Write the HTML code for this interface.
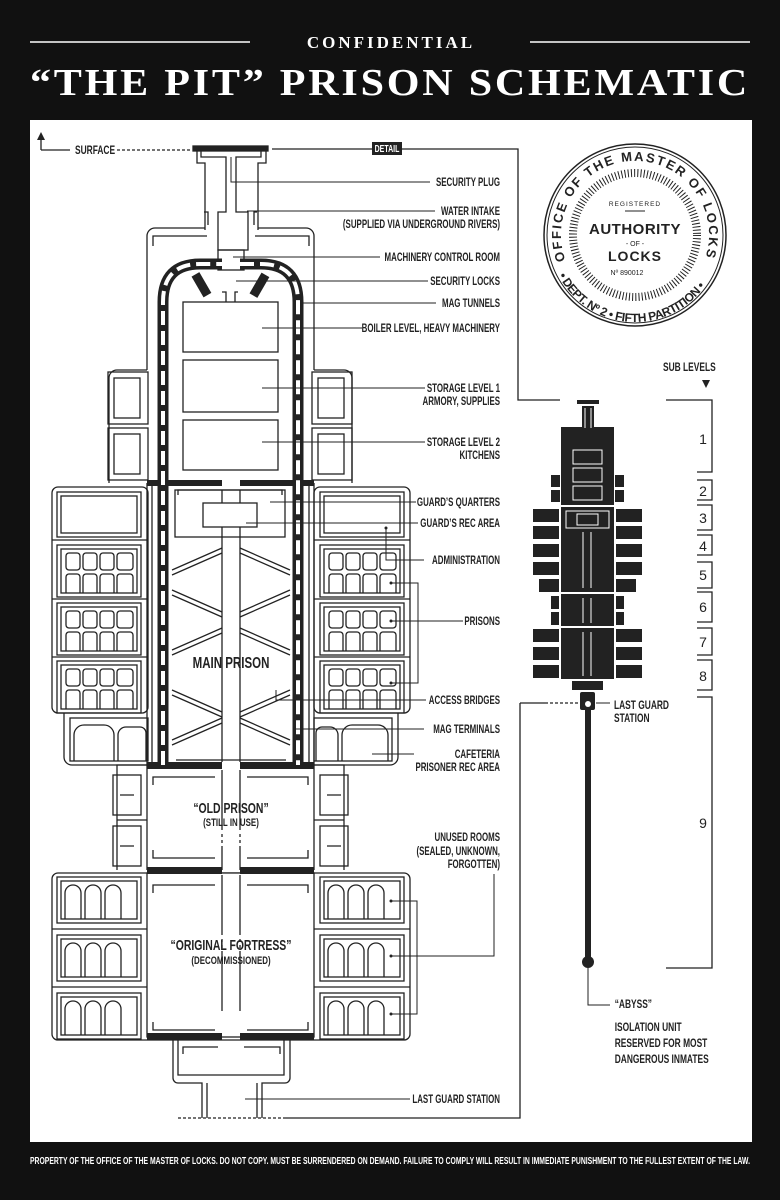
<!DOCTYPE html>
<html><head><meta charset="utf-8"><style>
html,body{margin:0;padding:0;background:#111;}
svg{display:block}
.l{font-family:"Liberation Sans",sans-serif;font-size:12px;fill:#222;text-anchor:end;font-weight:bold}
.r{font-family:"Liberation Sans",sans-serif;font-size:12px;fill:#222;font-weight:bold}
.c{font-family:"Liberation Sans",sans-serif;fill:#222;text-anchor:middle;font-weight:bold}
</style></head><body>
<svg width="780" height="1200" viewBox="0 0 780 1200" xmlns="http://www.w3.org/2000/svg">
<defs>
<g id="pb" fill="none" stroke="#222" stroke-width="1.3">
<rect x="0" y="0" width="84" height="52"/>
<rect x="4" y="4" width="76" height="44"/>
<rect x="9" y="8" width="14" height="17" rx="3"/><rect x="26" y="8" width="14" height="17" rx="3"/><rect x="43" y="8" width="14" height="17" rx="3"/><rect x="60" y="8" width="16" height="17" rx="3"/>
<path d="M9,48V32a3,3 0 0 1 3,-3h8a3,3 0 0 1 3,3V48M26,48V32a3,3 0 0 1 3,-3h8a3,3 0 0 1 3,3V48M43,48V32a3,3 0 0 1 3,-3h8a3,3 0 0 1 3,3V48M60,48V32a3,3 0 0 1 3,-3h10a3,3 0 0 1 3,3V48"/>
</g>
<g id="fr" fill="none" stroke="#222" stroke-width="1.3">
<rect x="0" y="0" width="84" height="46"/>
<rect x="4" y="4" width="76" height="38"/>
<path d="M8,42V16a8,8 0 0 1 16,0V42M28,42V16a8,8 0 0 1 16,0V42M48,42V16a8,8 0 0 1 16,0V42"/>
</g>
<g id="pod" fill="none" stroke="#222" stroke-width="1.3">
<rect x="0" y="0" width="40" height="52"/>
<rect x="6" y="6" width="26" height="40"/>
</g>
<path id="ctop" d="M565.5,260.3 A74,74 0 1 1 704.5,260.3"/>
<path id="cbot" d="M558.6,275.5 A86,86 0 0 0 711.4,275.5"/>
</defs>
<rect width="780" height="1200" fill="#111"/>
<rect x="30" y="120" width="722" height="1022" fill="#fff"/>
<line x1="30" y1="42" x2="250" y2="42" stroke="#fff" stroke-width="1.5"/>
<line x1="530" y1="42" x2="750" y2="42" stroke="#fff" stroke-width="1.5"/>
<text x="391" y="48" fill="#fff" font-family="Liberation Serif,serif" font-weight="bold" font-size="17" letter-spacing="3" text-anchor="middle">CONFIDENTIAL</text>
<text x="390" y="95" fill="#fff" font-family="Liberation Serif,serif" font-weight="bold" font-size="38" letter-spacing="2.5" text-anchor="middle" textLength="720" lengthAdjust="spacingAndGlyphs">“THE PIT” PRISON SCHEMATIC</text>
<text x="30" y="1164" fill="#fff" font-family="Liberation Sans,sans-serif" font-size="10" font-weight="bold" textLength="720" lengthAdjust="spacingAndGlyphs">PROPERTY OF THE OFFICE OF THE MASTER OF LOCKS. DO NOT COPY. MUST BE SURRENDERED ON DEMAND. FAILURE TO COMPLY WILL RESULT IN IMMEDIATE PUNISHMENT TO THE FULLEST EXTENT OF THE LAW.</text>

<g stroke="#222" stroke-width="1.3" fill="none">
<path d="M41,150V136M41,150H70"/>
<path d="M117,150H190" stroke-dasharray="3,2"/>
<path d="M272,149H518V400H560"/>
<path d="M666,400H712V472H697M697,480H712V500H697M697,505H712V530H697M697,535H712V555H697M697,562H712V588H697M697,592H712V622H697M697,628H712V655H697M697,660H712V690H697M697,697H712V968H666"/>
<path d="M520,703H545"/><path d="M545,703H578" stroke-dasharray="3,2"/>
<path d="M520,703V1118H285"/>
<path d="M178,1118H285" stroke-dasharray="3,2"/>
</g>
<polygon points="41,132 37,140 45,140" fill="#222"/>
<g transform="translate(75 0) scale(0.7 1)"><text x="0" y="154" class="r" font-size="11">SURFACE</text></g>
<rect x="372" y="142" width="30" height="13" fill="#222"/>
<g transform="translate(387 0) scale(0.7 1)"><text x="0" y="152" fill="#fff" font-family="Liberation Sans,sans-serif" font-size="10" font-weight="bold" text-anchor="middle">DETAIL</text></g>

<g stroke="#222" stroke-width="1.3" fill="none">
<rect x="193" y="146" width="75" height="5" fill="#222"/>
<path d="M197,151V163H205V230M266,151V163H258V230"/>
<path d="M201,151V157H226V212H218V250H248V212H236V157H261V151"/>
<path d="M204,212H208V225M257,212H254V225"/>
<rect x="218" y="250" width="26" height="20"/>
<path d="M205,228H155a8,8 0 0 0 -8,8V370M258,228H306a8,8 0 0 1 8,8V370"/>
<path d="M207,236H153V246M255,236H309V246"/>
<path d="M147,370H117a8,8 0 0 0 -8,8V483M314,370H344a8,8 0 0 1 8,8V483"/>
<use href="#pod" x="108" y="372"/>
<use href="#pod" x="108" y="428"/>
<use href="#pod" x="312" y="372"/>
<use href="#pod" x="312" y="428"/>
<rect x="183" y="302" width="95" height="50"/>
<rect x="183" y="360" width="95" height="52"/>
<rect x="183" y="420" width="95" height="50"/>
<path d="M226,302V292H222M235,302V292H238"/>
<rect x="52" y="487" width="96" height="226" rx="6"/>
<rect x="314" y="487" width="96" height="226" rx="6"/>
<rect x="57" y="492" width="84" height="45"/><rect x="61" y="496" width="76" height="37"/>
<rect x="320" y="492" width="84" height="45"/><rect x="324" y="496" width="76" height="37"/>
<path d="M52,540H148M52,599H148M52,657H148M314,540H410M314,599H410M314,657H410"/>
<use href="#pb" x="57" y="545"/><use href="#pb" x="57" y="603"/><use href="#pb" x="57" y="661"/>
<use href="#pb" x="320" y="545"/><use href="#pb" x="320" y="603"/><use href="#pb" x="320" y="661"/>
<path d="M64,713V757a8,8 0 0 0 8,8H148M398,713V757a8,8 0 0 1 -8,8H314"/>
<rect x="70" y="718" width="78" height="43"/>
<path d="M74,761V735a10,10 0 0 1 10,-10H104a10,10 0 0 1 10,10V761M118,761V735a8,8 0 0 1 8,-8H140a6,6 0 0 1 6,6V761"/>
<rect x="314" y="718" width="78" height="43"/>
<path d="M316,761V733a6,6 0 0 1 6,-6H330a8,8 0 0 1 8,8V761M342,761V735a10,10 0 0 1 10,-10H378a10,10 0 0 1 10,10V761"/>
<path d="M147,483V870M314,483V870M152,483V765M309,483V765"/>
<rect x="175" y="490" width="110" height="47"/>
<rect x="203" y="503" width="54" height="24" fill="#fff"/>
<path d="M222,490V503M240,490V503M222,527V762M240,527V762"/>
<path d="M178,495V490H282V495M176,760H286"/>
<path d="M172,570L222,548M172,575L222,553M240,548L290,570M240,553L290,575M172,590L222,612M172,595L222,617M240,612L290,590M240,617L290,595M172,650L222,628M172,655L222,633M240,628L290,650M240,633L290,655M172,690L222,712M172,695L222,717M240,712L290,690M240,717L290,695M172,740L222,718M172,745L222,723M240,718L290,740M240,723L290,745"/>
<path d="M147,765H117V870M314,765H344V870"/>
<rect x="113" y="775" width="28" height="40"/><rect x="113" y="826" width="28" height="40"/>
<rect x="320" y="775" width="28" height="40"/><rect x="320" y="826" width="28" height="40"/>
<path d="M117,820H147M314,820H344M120,795H134M120,846H134M327,795H341M327,846H341"/>
<path d="M153,785V777H215M247,777H308V785M153,850V858H215M247,858H308V850"/>
<path d="M222,770V870M240,770V870" stroke-dasharray="60,4,3,3,3,3,60"/>
<rect x="52" y="873" width="358" height="167" rx="6"/>
<path d="M52,929H147M52,987H147M314,929H410M314,987H410"/>
<use href="#fr" x="57" y="877"/><use href="#fr" x="57" y="935"/><use href="#fr" x="57" y="993"/>
<use href="#fr" x="320" y="877"/><use href="#fr" x="320" y="935"/><use href="#fr" x="320" y="993"/>
<rect x="147" y="873" width="167" height="164" fill="#fff"/>
<path d="M153,893V885H215M247,885H308V893M153,1022V1030H215M247,1030H308V1022"/>
<path d="M222,875V1035M240,875V1035" stroke-dasharray="60,4,3,3,3,3,60"/>
<path d="M173,1040V1078a5,5 0 0 0 5,5H202V1118M290,1040V1078a5,5 0 0 1 -5,5H262V1118"/>
<path d="M178,1040V1075H284V1040M207,1083V1118M257,1083V1118M183,1054V1047H218M244,1047H280V1054"/>
</g>
<g fill="#222">
<rect x="147" y="480" width="75" height="6"/><rect x="240" y="480" width="74" height="6"/>
<rect x="147" y="762" width="75" height="7"/><rect x="240" y="762" width="74" height="7"/>
<rect x="147" y="867" width="75" height="7"/><rect x="240" y="867" width="74" height="7"/>
<rect x="147" y="1033" width="75" height="7"/><rect x="240" y="1033" width="74" height="7"/>
<rect x="197" y="273" width="9" height="24" transform="rotate(-30 201 285)"/>
<rect x="255" y="273" width="9" height="24" transform="rotate(30 259 285)"/>
</g>
<path d="M163,765V302Q163,264 200,264H222M240,264H261Q298,264 298,302V765" fill="none" stroke="#222" stroke-width="11"/>
<path d="M163,765V302Q163,264 200,264H222M240,264H261Q298,264 298,302V765" fill="none" stroke="#fff" stroke-width="4" stroke-dasharray="14,6"/>

<g transform="translate(231 0) scale(0.72 1)">
<text x="0" y="668" class="c" font-size="16">MAIN PRISON</text>
<text x="0" y="813" class="c" font-size="14.5">“OLD PRISON”</text>
<text x="0" y="826" class="c" font-size="11">(STILL IN USE)</text>
<text x="0" y="950" class="c" font-size="14.5">“ORIGINAL FORTRESS”</text>
<text x="0" y="964" class="c" font-size="11">(DECOMMISSIONED)</text>
</g>

<g stroke="#222" stroke-width="1" fill="none">
<path d="M231,157V182H430"/>
<path d="M247,211H435"/>
<path d="M233,257H380"/>
<path d="M236,281H428"/>
<path d="M300,303H436"/>
<path d="M262,328H362"/>
<path d="M262,388H425"/>
<path d="M262,442H425"/>
<path d="M270,502H416"/>
<path d="M246,523H418"/>
<path d="M386,528V560H424"/>
<path d="M391,583H418V683H391M391,621H463"/>
<path d="M276,690V700H426"/>
<path d="M296,729H424"/>
<path d="M372,754H414"/>
<path d="M494,874V956H391M391,901H417V1014H391"/>
<path d="M245,1099H410"/>
<path d="M596,703H610"/>
<path d="M588,968V1005H610"/>
</g>
<g fill="#222">
<circle cx="386" cy="528" r="1.5"/><circle cx="391" cy="583" r="1.5"/><circle cx="391" cy="621" r="1.5"/><circle cx="391" cy="683" r="1.5"/>
<circle cx="391" cy="901" r="1.5"/><circle cx="391" cy="956" r="1.5"/><circle cx="391" cy="1014" r="1.5"/>
</g>
<g transform="translate(500 0) scale(0.66 1)">
<text x="0" y="186" class="l">SECURITY PLUG</text>
<text x="0" y="215" class="l">WATER INTAKE</text>
<text x="0" y="228" class="l">(SUPPLIED VIA UNDERGROUND RIVERS)</text>
<text x="0" y="261" class="l">MACHINERY CONTROL ROOM</text>
<text x="0" y="285" class="l">SECURITY LOCKS</text>
<text x="0" y="307" class="l">MAG TUNNELS</text>
<text x="0" y="332" class="l">BOILER LEVEL, HEAVY MACHINERY</text>
<text x="0" y="392" class="l">STORAGE LEVEL 1</text>
<text x="0" y="405" class="l">ARMORY, SUPPLIES</text>
<text x="0" y="446" class="l">STORAGE LEVEL 2</text>
<text x="0" y="459" class="l">KITCHENS</text>
<text x="0" y="506" class="l">GUARD’S QUARTERS</text>
<text x="0" y="527" class="l">GUARD’S REC AREA</text>
<text x="0" y="564" class="l">ADMINISTRATION</text>
<text x="0" y="625" class="l">PRISONS</text>
<text x="0" y="704" class="l">ACCESS BRIDGES</text>
<text x="0" y="733" class="l">MAG TERMINALS</text>
<text x="0" y="758" class="l">CAFETERIA</text>
<text x="0" y="771" class="l">PRISONER REC AREA</text>
<text x="0" y="841" class="l">UNUSED ROOMS</text>
<text x="0" y="855" class="l">(SEALED, UNKNOWN,</text>
<text x="0" y="868" class="l">FORGOTTEN)</text>
<text x="0" y="1103" class="l">LAST GUARD STATION</text>
</g>

<g fill="#222">
<rect x="577" y="400" width="22" height="4"/>
<rect x="582" y="406" width="12" height="22"/>
<rect x="561" y="427" width="53" height="78"/>
<rect x="551" y="475" width="9" height="12"/><rect x="551" y="490" width="9" height="12"/>
<rect x="615" y="475" width="9" height="12"/><rect x="615" y="490" width="9" height="12"/>
<rect x="561" y="507" width="53" height="85"/>
<rect x="533" y="509" width="26" height="13"/><rect x="533" y="526" width="26" height="13"/><rect x="533" y="544" width="26" height="13"/><rect x="533" y="562" width="26" height="13"/><rect x="539" y="579" width="20" height="13"/>
<rect x="616" y="509" width="26" height="13"/><rect x="616" y="526" width="26" height="13"/><rect x="616" y="544" width="26" height="13"/><rect x="616" y="562" width="26" height="13"/><rect x="616" y="579" width="20" height="13"/>
<rect x="561" y="594" width="53" height="32"/>
<rect x="551" y="596" width="8" height="13"/><rect x="551" y="612" width="8" height="13"/>
<rect x="616" y="596" width="8" height="13"/><rect x="616" y="612" width="8" height="13"/>
<rect x="561" y="628" width="53" height="51"/>
<rect x="533" y="629" width="26" height="13"/><rect x="533" y="647" width="26" height="13"/><rect x="533" y="665" width="26" height="13"/>
<rect x="616" y="629" width="26" height="13"/><rect x="616" y="647" width="26" height="13"/><rect x="616" y="665" width="26" height="13"/>
<rect x="572" y="681" width="31" height="9"/>
<rect x="580" y="692" width="15" height="18" rx="2"/>
<rect x="585" y="708" width="6" height="252"/>
<circle cx="588" cy="962" r="6"/>
</g>
<circle cx="588" cy="704" r="3" fill="#fff"/>
<g stroke="#fff" stroke-width="1" fill="none">
<path d="M585,408V428M591,408V428"/>
<rect x="573" y="450" width="29" height="14"/><rect x="573" y="468" width="29" height="14"/><rect x="573" y="486" width="29" height="14"/>
<rect x="566" y="511" width="43" height="17"/><rect x="577" y="514" width="21" height="11"/>
<path d="M583,532V588M591,532V588M583,598V623M591,598V623M583,632V676M591,632V676"/>
</g>
<g transform="translate(614 0) scale(0.7 1)">
<text x="0" y="709" class="r">LAST GUARD</text>
<text x="0" y="722" class="r">STATION</text>
<text x="1" y="1008" class="r">“ABYSS”</text>
<text x="1" y="1031" class="r">ISOLATION UNIT</text>
<text x="1" y="1047" class="r">RESERVED FOR MOST</text>
<text x="1" y="1063" class="r">DANGEROUS INMATES</text>
</g>
<g transform="translate(663 0) scale(0.7 1)"><text x="0" y="371" class="r" font-size="11.5">SUB LEVELS</text></g>
<polygon points="702,380 710,380 706,388" fill="#222"/>
<g font-family="Liberation Sans,sans-serif" font-size="14" fill="#222" text-anchor="middle">
<text x="703" y="444">1</text><text x="703" y="496">2</text><text x="703" y="523">3</text><text x="703" y="551">4</text><text x="703" y="580">5</text><text x="703" y="612">6</text><text x="703" y="647">7</text><text x="703" y="681">8</text><text x="703" y="828">9</text>
</g>

<circle cx="635" cy="235" r="91" fill="none" stroke="#222" stroke-width="1.5"/>
<circle cx="635" cy="235" r="88" fill="none" stroke="#222" stroke-width="1"/>
<circle cx="635" cy="235" r="62" fill="none" stroke="#222" stroke-width="8" stroke-dasharray="1,2.2"/>
<text font-family="Liberation Sans,sans-serif" font-size="13" font-weight="bold" fill="#222"><textPath href="#ctop" startOffset="0" textLength="280" lengthAdjust="spacing">OFFICE OF THE MASTER OF LOCKS</textPath></text>
<text font-family="Liberation Sans,sans-serif" font-size="12" font-weight="bold" fill="#222"><textPath href="#cbot" startOffset="0" textLength="176" lengthAdjust="spacing">• DEPT. Nº 2 • FIFTH PARTITION •</textPath></text>
<text x="635" y="206" font-family="Liberation Sans,sans-serif" font-size="6.5" fill="#222" text-anchor="middle" letter-spacing="1">REGISTERED</text>
<line x1="625" y1="211" x2="645" y2="211" stroke="#222"/>
<text x="635" y="234" font-family="Liberation Sans,sans-serif" font-size="15" font-weight="bold" fill="#222" text-anchor="middle" letter-spacing="0.5">AUTHORITY</text>
<text x="635" y="246" font-family="Liberation Sans,sans-serif" font-size="7" fill="#222" text-anchor="middle">- OF -</text>
<text x="635" y="261" font-family="Liberation Sans,sans-serif" font-size="14" font-weight="bold" fill="#222" text-anchor="middle" letter-spacing="1">LOCKS</text>
<text x="627" y="275" font-family="Liberation Sans,sans-serif" font-size="7" fill="#222" text-anchor="middle">Nº 890012</text>
</svg>
</body></html>
